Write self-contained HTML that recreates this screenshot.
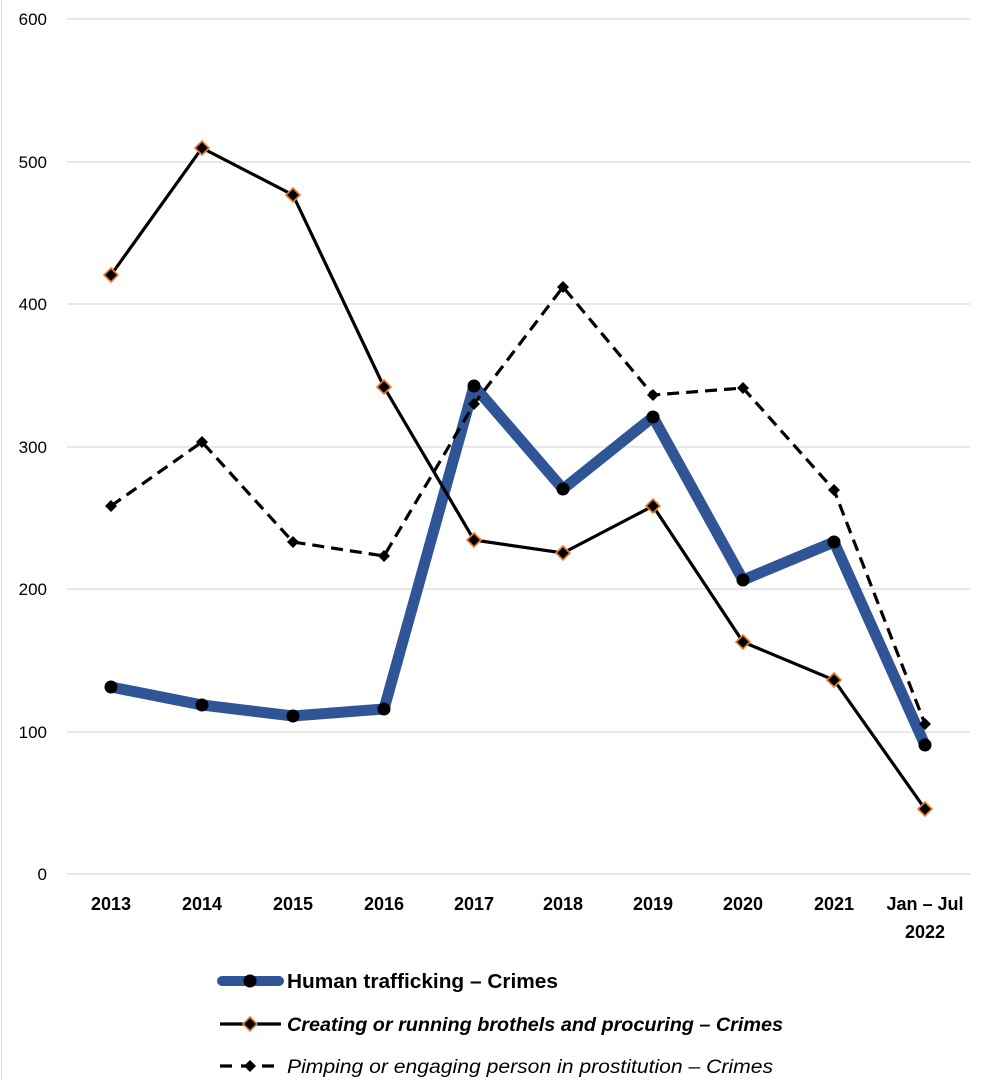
<!DOCTYPE html>
<html><head><meta charset="utf-8"><style>
html,body{margin:0;padding:0;background:#fff;}
svg{display:block;font-family:"Liberation Sans",sans-serif;}
</style></head><body>
<svg width="990" height="1080" viewBox="0 0 990 1080" xmlns="http://www.w3.org/2000/svg">
<defs>
<g id="dm"><polygon points="0,-7 7,0 0,7 -7,0" fill="#000" stroke="#ed7d31" stroke-width="1.6"/></g>
<g id="ds"><polygon points="0,-6 6,0 0,6 -6,0" fill="#000"/></g>
</defs>
<line x1="1.5" y1="0" x2="1.5" y2="1080" stroke="#d9d9d9" stroke-width="1"/>
<g stroke="#d9d9d9" stroke-width="1.3">
<line x1="67" y1="19" x2="970" y2="19"/>
<line x1="67" y1="162" x2="970" y2="162"/>
<line x1="67" y1="304" x2="970" y2="304"/>
<line x1="67" y1="447" x2="970" y2="447"/>
<line x1="67" y1="589" x2="970" y2="589"/>
<line x1="67" y1="732" x2="970" y2="732"/>
<line x1="67" y1="874" x2="970" y2="874"/>
</g>
<g font-size="17" fill="#000" text-anchor="end">
<text x="47" y="25">600</text>
<text x="47" y="168">500</text>
<text x="47" y="310">400</text>
<text x="47" y="453">300</text>
<text x="47" y="595">200</text>
<text x="47" y="738">100</text>
<text x="47" y="880">0</text>
</g>
<g font-size="18" font-weight="bold" text-anchor="middle">
<text x="111" y="910">2013</text>
<text x="202" y="910">2014</text>
<text x="293" y="910">2015</text>
<text x="384" y="910">2016</text>
<text x="474" y="910">2017</text>
<text x="563" y="910">2018</text>
<text x="653" y="910">2019</text>
<text x="743" y="910">2020</text>
<text x="834" y="910">2021</text>
<text x="925" y="910">Jan – Jul</text>
<text x="925" y="938">2022</text>
</g>
<polyline points="111,687 202,705 293,716 384,709 474,386 563,489 653,417 743,580 834,542 925,745" fill="none" stroke="#2f5597" stroke-width="11" stroke-linejoin="round" stroke-linecap="round"/>
<g fill="#000">
<circle cx="111" cy="687" r="6.5"/><circle cx="202" cy="705" r="6.5"/><circle cx="293" cy="716" r="6.5"/><circle cx="384" cy="709" r="6.5"/><circle cx="474" cy="386" r="6.5"/><circle cx="563" cy="489" r="6.5"/><circle cx="653" cy="417" r="6.5"/><circle cx="743" cy="580" r="6.5"/><circle cx="834" cy="542" r="6.5"/><circle cx="925" cy="745" r="6.5"/>
</g>
<polyline points="111,506 202,442 293,542 384,556 474,404 563,287 653,395 743,388 834,490 925,724" fill="none" stroke="#000" stroke-width="3.2" stroke-dasharray="12,7"/>
<use href="#ds" x="111" y="506"/><use href="#ds" x="202" y="442"/><use href="#ds" x="293" y="542"/><use href="#ds" x="384" y="556"/><use href="#ds" x="474" y="404"/><use href="#ds" x="563" y="287"/><use href="#ds" x="653" y="395"/><use href="#ds" x="743" y="388"/><use href="#ds" x="834" y="490"/><use href="#ds" x="925" y="724"/>
<polyline points="111,275 202,148 293,195 384,387 474,540 563,553 653,506 743,642 834,680 925,809" fill="none" stroke="#000" stroke-width="3.2"/>
<use href="#dm" x="111" y="275"/><use href="#dm" x="202" y="148"/><use href="#dm" x="293" y="195"/><use href="#dm" x="384" y="387"/><use href="#dm" x="474" y="540"/><use href="#dm" x="563" y="553"/><use href="#dm" x="653" y="506"/><use href="#dm" x="743" y="642"/><use href="#dm" x="834" y="680"/><use href="#dm" x="925" y="809"/>
<line x1="222" y1="981" x2="279" y2="981" stroke="#2f5597" stroke-width="10" stroke-linecap="round"/>
<circle cx="250" cy="981" r="6.5" fill="#000"/>
<text x="287" y="988" font-size="20" font-weight="bold" textLength="271" lengthAdjust="spacingAndGlyphs">Human trafficking – Crimes</text>
<line x1="220" y1="1024" x2="281" y2="1024" stroke="#000" stroke-width="3.2"/>
<use href="#dm" x="250" y="1024"/>
<text x="287" y="1031" font-size="19" font-weight="bold" font-style="italic" textLength="496" lengthAdjust="spacingAndGlyphs">Creating or running brothels and procuring – Crimes</text>
<line x1="220" y1="1066" x2="281" y2="1066" stroke="#000" stroke-width="3.2" stroke-dasharray="12,9"/>
<use href="#ds" x="250" y="1066"/>
<text x="287" y="1073" font-size="19" font-style="italic" textLength="486" lengthAdjust="spacingAndGlyphs">Pimping or engaging person in prostitution – Crimes</text>
</svg>
</body></html>
